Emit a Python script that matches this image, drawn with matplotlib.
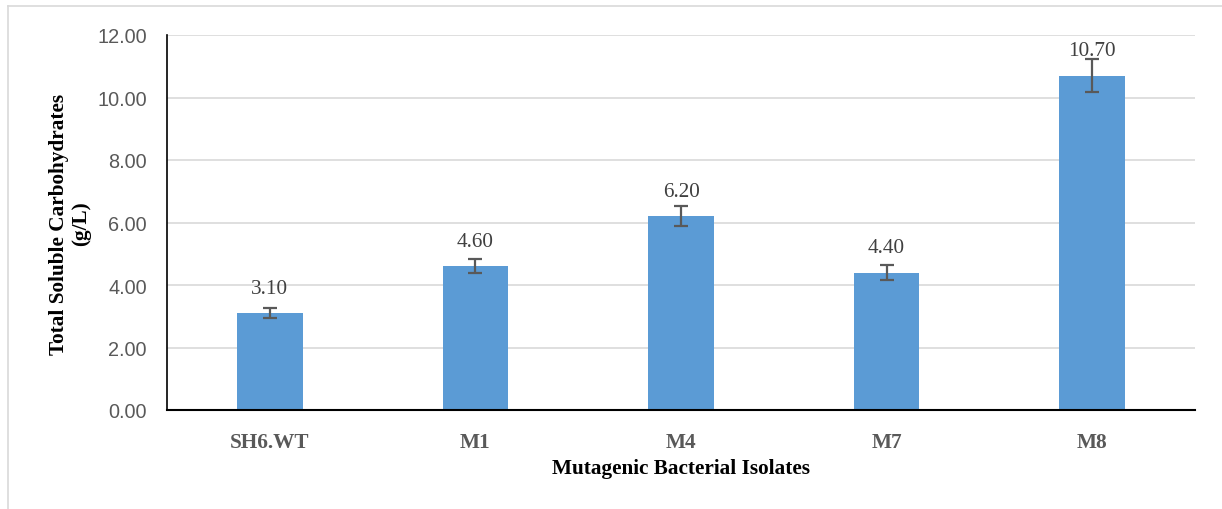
import matplotlib.pyplot as plt
from matplotlib.lines import Line2D

isolates = ["SH6.WT", "M1", "M4", "M7", "M8"]
carbs = [3.10, 4.60, 6.20, 4.40, 10.70]
errors = [0.16, 0.22, 0.32, 0.25, 0.52]
yticks = [0, 2, 4, 6, 8, 10, 12]

fig = plt.figure(figsize=(12.22, 5.10), dpi=100)
ax = fig.add_axes([167 / 1222, 1 - 411 / 510, 1028 / 1222, 375 / 510])

ax.bar(range(len(isolates)), carbs, width=0.32, color="#5B9BD5", zorder=2,
       yerr=errors, error_kw=dict(ecolor="#595959", elinewidth=1.6, capsize=5, capthick=1.6))

for i, v in enumerate(carbs):
    ax.annotate(f"{v:.2f}", (i, v), xytext=(0, 11), textcoords="offset points",
                ha="center", va="bottom", fontsize=15.3, family="Liberation Serif", color="#404040")

ax.set_xlim(-0.5, len(isolates) - 0.5)
ax.set_ylim(0, 12)
ax.set_yticks(yticks)
ax.set_yticklabels([f"{t:.2f}" for t in yticks], family="Liberation Sans", fontsize=14.3, color="#595959")
ax.set_xticks(range(len(isolates)))
ax.set_xticklabels(isolates, family="Liberation Serif", fontweight="bold", fontsize=15.3, color="#595959")
ax.tick_params(axis="both", length=0)
ax.tick_params(axis="x", pad=16)
ax.tick_params(axis="y", pad=14.5)
ax.grid(axis="y", color="#d9d9d9", linewidth=1.2, zorder=0)
ax.set_axisbelow(True)

for s in ["top", "right"]:
    ax.spines[s].set_visible(False)
ax.spines["left"].set_color("black")
ax.spines["bottom"].set_color("black")
ax.spines["left"].set_linewidth(1.2)
ax.spines["bottom"].set_linewidth(1.5)

fig.text(70 / 1222, 1 - 224 / 510, "Total Soluble Carbohydrates\n(g/L)", rotation=90,
         ha="center", va="center", family="Liberation Serif", fontweight="bold", fontsize=15.3,
         linespacing=1.15, multialignment="center")
fig.text(681 / 1222, 1 - 469 / 510, "Mutagenic Bacterial Isolates", ha="center", va="center",
         family="Liberation Serif", fontweight="bold", fontsize=15.3)

# light outer frame
fig.add_artist(Line2D([8 / 1222, 8 / 1222], [0, 1 - 7 / 510], transform=fig.transFigure, color="#d9d9d9", lw=1.2))
fig.add_artist(Line2D([8 / 1222, 1], [1 - 7 / 510, 1 - 7 / 510], transform=fig.transFigure, color="#d9d9d9", lw=1.2))

fig.savefig("out.png", dpi=100)
